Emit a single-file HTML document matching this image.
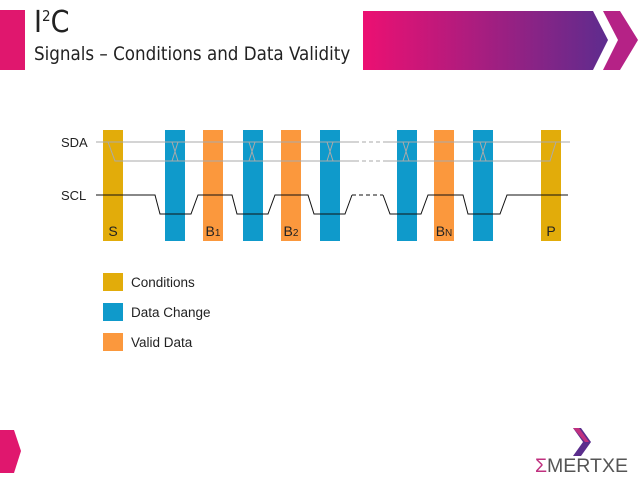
<!DOCTYPE html>
<html><head><meta charset="utf-8"><style>
body{margin:0;width:638px;height:479px;background:#fff;overflow:hidden;font-family:"Liberation Sans",sans-serif;position:relative}
.a{position:absolute}
</style></head><body>
<div class="a" style="left:0;top:10px;width:25px;height:60px;background:#e0176e"></div>
<div class="a" style="left:34px;top:5px;font-size:30px;color:#222;font-family:'DejaVu Sans Condensed','Liberation Sans',sans-serif">I<sup style="font-size:15px">2</sup>C</div>
<div class="a" style="left:34px;top:44px;font-size:18.6px;color:#222;font-family:'DejaVu Sans Condensed','Liberation Sans',sans-serif">Signals – Conditions and Data Validity</div>
<svg class="a" style="left:0;top:0" width="638" height="479">
<defs><linearGradient id="g" x1="0" x2="1"><stop offset="0" stop-color="#ec1072"/><stop offset="1" stop-color="#5e2c8e"/></linearGradient></defs>
<polygon points="363,11 593,11 608,40 593,70 363,70" fill="url(#g)"/>
<polygon points="603,11 620,11 638,40 620,70 603,70 618,40" fill="#b52286"/>
<polygon points="0,430 14,430 21,451 14,473 0,473" fill="#e0176e"/>
<g id="bars"></g>
<g id="lines" fill="none" stroke-width="1"></g>
<g id="legend"></g>
<g>
<polygon points="573,428 581,428 591,442 581,456 573,456 583,442" fill="#5a2d8c"/>
<polygon points="573,428 579,428 589,442 585,442" fill="#c0307f"/>
<text x="535" y="472" font-size="19" textLength="93" lengthAdjust="spacingAndGlyphs" fill="#555" font-family="Liberation Sans Narrow,Liberation Sans,sans-serif"><tspan fill="#c0307f">Σ</tspan>MERTXE</text>
</g>
</svg>
<script>
const barX=[103,165,203,243,281,320,397,434,473,541];
const barKind=["c","d","v","d","v","d","d","v","d","c"];
const barLabel=["S","","B1","","B2","","","BN","","P"];
const colors={c:"#e2ac0a",d:"#0f9acb",v:"#fb983d"};
const ns="http://www.w3.org/2000/svg";
function mk(p,t,a){const e=document.createElementNS(ns,t);for(const k in a)e.setAttribute(k,a[k]);p.appendChild(e);return e;}
const gb=document.getElementById('bars');
barX.forEach((x,i)=>{const r=mk(gb,'rect',{x:x,y:130,width:20,height:111,fill:colors[barKind[i]]});


if(barLabel[i]){const t=mk(gb,'text',{x:x+10,y:236,'font-size':14,'text-anchor':'middle',fill:'#222'});


t.textContent=barLabel[i][0];if(barLabel[i].length>1){const s=mk(t,'tspan',{'font-size':10});s.textContent=barLabel[i].slice(1);}}});
const gl=document.getElementById('lines');
mk(gl,'text',{x:61,y:147,'font-size':13,fill:'#222',stroke:'none'}).textContent='SDA';
mk(gl,'text',{x:61,y:200,'font-size':13,fill:'#222',stroke:'none'}).textContent='SCL';
const g='#aaa';
mk(gl,'path',{d:'M96,142 H108 L115,161 H355 M385,161 H421 H550 L556,142 H570',stroke:g});
mk(gl,'path',{d:'M108,142 H355 M385,142 H570',stroke:g});
mk(gl,'path',{d:'M355,142 H385 M355,161 H385',stroke:g,'stroke-dasharray':'4,3'});
[175,252,330,406,483].forEach(x=>mk(gl,'path',{d:`M${x-3},161 L${x+3},142 M${x-3},142 L${x+3},161`,stroke:g}));
mk(gl,'path',{d:'M96,195 H155 L160,214 H191 L198,195 H232 L237,214 H268 L275,195 H308 L314,214 H345 L352,195 M383,195 L390,214 H421 L428,195 H463 L468,214 H500 L507,195 H568',stroke:'#111'});
mk(gl,'path',{d:'M352,195 H383',stroke:'#111','stroke-dasharray':'4,3'});
const lg=document.getElementById('legend');
[["c","Conditions",273],["d","Data Change",303],["v","Valid Data",333]].forEach(([k,t,y])=>{
const r=mk(lg,'rect',{x:103,y:y,width:20,height:18,fill:colors[k]});


const tx=mk(lg,'text',{x:131,y:y+14,'font-size':13.5,fill:'#222'});tx.textContent=t;

});
</script>
</body></html>
